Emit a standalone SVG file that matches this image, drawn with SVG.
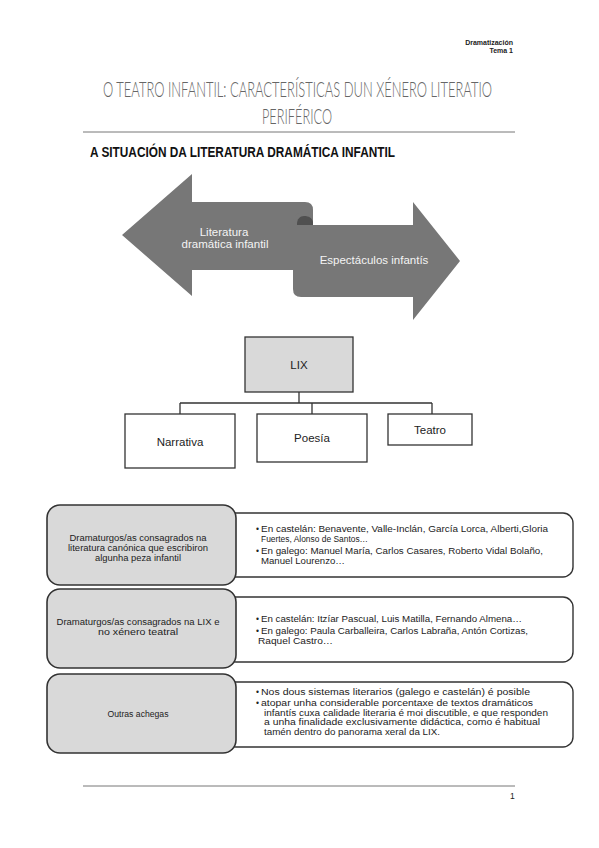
<svg xmlns="http://www.w3.org/2000/svg" width="599" height="848" viewBox="0 0 599 848">
<style>
.hdr{font-family:"Liberation Sans",Arial,sans-serif;font-size:7px;font-weight:bold;fill:#222;text-anchor:end}
.title{font-family:Lato,"Open Sans",sans-serif;font-weight:300;font-size:21px;fill:#666;text-anchor:middle}
.head{font-family:"Liberation Sans",Arial,sans-serif;font-weight:bold;font-size:14px;fill:#111}
.arrow{fill:#777777}
.atxt{font-family:"Liberation Sans",Arial,sans-serif;font-size:11.5px;fill:#f4f4f4;text-anchor:middle}
.box{fill:#ffffff;stroke:#333;stroke-width:1.3}
.boxg{fill:#d9d9d9;stroke:#333;stroke-width:1.3}
.ntxt{font-family:"Liberation Sans",Arial,sans-serif;font-size:11.5px;fill:#222;text-anchor:middle}
.conn{fill:none;stroke:#333;stroke-width:1.3}
.lbox{fill:#d9d9d9;stroke:#333;stroke-width:1.6}
.rbox{fill:#ffffff;stroke:#333;stroke-width:1.4}
.ltxt{font-family:"Liberation Sans",Arial,sans-serif;font-size:8.5px;fill:#222;text-anchor:middle}
.rtxt{font-family:"Liberation Sans",Arial,sans-serif;font-size:8.5px;fill:#222}
.rule{stroke:#777;stroke-width:1}
</style>
<rect width="599" height="848" fill="#ffffff"/>
<g id="header">
<text class="hdr" x="513" y="45">Dramatización</text>
<text class="hdr" x="513" y="53">Tema 1</text>
<text class="title" x="297.5" y="97" textLength="389" lengthAdjust="spacingAndGlyphs">O TEATRO INFANTIL: CARACTERÍSTICAS DUN XÉNERO LITERATIO</text>
<text class="title" x="297" y="124" textLength="70" lengthAdjust="spacingAndGlyphs">PERIFÉRICO</text>
<line class="rule" x1="83" y1="132" x2="515" y2="132"/>
<text class="head" x="90" y="157" textLength="305" lengthAdjust="spacingAndGlyphs">A SITUACIÓN DA LITERATURA DRAMÁTICA INFANTIL</text>
</g>
<g id="arrow-left">
<path class="arrow" d="M122,235 L192,174 L192,202 L305,202 Q313,202 313,210 L313,270 L192,270 L192,296 Z"/>
<text class="atxt" x="224" y="236">Literatura</text>
<text class="atxt" x="225" y="248">dramática infantil</text>
</g>
<g id="arrow-right">
<path class="arrow" d="M293,289 L293,222 C293,216 297,213 302,213 L313,213 L313,225 L413,225 L413,202 L460,261 L413,320 L413,297 L301,297 Q293,297 293,289 Z"/>
<path d="M297,224 C297,219 300,216 304,216 C309,216 312,218 313,222 L313,225 L297,225 Z" fill="#505050"/>
<text class="atxt" x="374" y="264">Espectáculos infantís</text>
</g>
<g id="connectors">
<path class="conn" d="M299,392 L299,403 M180,403 L432,403 M180,403 L180,414 M312,403 L312,414 M432,403 L432,414"/>
</g>
<g id="node-lix">
<rect class="boxg" x="245" y="337" width="108" height="55"/>
<text class="ntxt" x="299" y="369">LIX</text>
</g>
<g id="node-narrativa">
<rect class="box" x="125" y="414" width="110" height="54"/>
<text class="ntxt" x="180" y="446">Narrativa</text>
</g>
<g id="node-poesia">
<rect class="box" x="257" y="414" width="110" height="48"/>
<text class="ntxt" x="312" y="442">Poesía</text>
</g>
<g id="node-teatro">
<rect class="box" x="388" y="414" width="84" height="31"/>
<text class="ntxt" x="430" y="434">Teatro</text>
</g>
<g id="row1">
<rect class="rbox" x="226" y="513" width="347" height="64" rx="10"/>
<rect class="lbox" x="47" y="505" width="189" height="80" rx="13"/>
<text class="ltxt" x="138" y="541" textLength="137" lengthAdjust="spacingAndGlyphs">Dramaturgos/as consagrados na</text>
<text class="ltxt" x="138" y="551" textLength="140" lengthAdjust="spacingAndGlyphs">literatura canónica que escribiron</text>
<text class="ltxt" x="138" y="561" textLength="86" lengthAdjust="spacingAndGlyphs">algunha peza infantil</text>
<text class="rtxt" x="256" y="532">•</text>
<text class="rtxt" x="261" y="532" textLength="287" lengthAdjust="spacingAndGlyphs">En castelán: Benavente, Valle-Inclán, García Lorca, Alberti,Gloria</text>
<text class="rtxt" x="261" y="542" textLength="107" lengthAdjust="spacingAndGlyphs">Fuertes, Alonso de Santos…</text>
<text class="rtxt" x="256" y="554">•</text>
<text class="rtxt" x="261" y="554" textLength="282" lengthAdjust="spacingAndGlyphs">En galego: Manuel María, Carlos Casares, Roberto Vidal Bolaño,</text>
<text class="rtxt" x="261" y="564" textLength="84" lengthAdjust="spacingAndGlyphs">Manuel Lourenzo…</text>
</g>
<g id="row2">
<rect class="rbox" x="226" y="597" width="347" height="65" rx="10"/>
<rect class="lbox" x="47" y="589" width="189" height="79" rx="13"/>
<text class="ltxt" x="138" y="625" textLength="163" lengthAdjust="spacingAndGlyphs">Dramaturgos/as consagrados na LIX e</text>
<text class="ltxt" x="138" y="635" textLength="80" lengthAdjust="spacingAndGlyphs">no xénero teatral</text>
<text class="rtxt" x="256" y="622">•</text>
<text class="rtxt" x="261" y="622" textLength="261" lengthAdjust="spacingAndGlyphs">En castelán: Itzíar Pascual, Luis Matilla, Fernando Almena…</text>
<text class="rtxt" x="256" y="634">•</text>
<text class="rtxt" x="261" y="634" textLength="267" lengthAdjust="spacingAndGlyphs">En galego: Paula Carballeira, Carlos Labraña, Antón Cortizas,</text>
<text class="rtxt" x="258" y="644" textLength="75" lengthAdjust="spacingAndGlyphs">Raquel Castro…</text>
</g>
<g id="row3">
<rect class="rbox" x="226" y="682" width="347" height="65" rx="10"/>
<rect class="lbox" x="47" y="674" width="189" height="79" rx="13"/>
<text class="ltxt" x="138" y="717" textLength="61" lengthAdjust="spacingAndGlyphs">Outras achegas</text>
<text class="rtxt" x="256" y="695">•</text>
<text class="rtxt" x="261" y="695" textLength="269" lengthAdjust="spacingAndGlyphs">Nos dous sistemas literarios (galego e castelán) é posible</text>
<text class="rtxt" x="256" y="706">•</text>
<text class="rtxt" x="261" y="706" textLength="272" lengthAdjust="spacingAndGlyphs">atopar unha considerable porcentaxe de textos dramáticos</text>
<text class="rtxt" x="264" y="715.5" textLength="284" lengthAdjust="spacingAndGlyphs">infantís cuxa calidade literaria é moi discutible, e que responden</text>
<text class="rtxt" x="264" y="725" textLength="276" lengthAdjust="spacingAndGlyphs">a unha finalidade exclusivamente didáctica, como é habitual</text>
<text class="rtxt" x="264" y="734.5" textLength="176" lengthAdjust="spacingAndGlyphs">tamén dentro do panorama xeral da LIX.</text>
</g>
<g id="footer">
<line class="rule" x1="83" y1="786" x2="515" y2="786"/>
<text class="rtxt" x="510" y="799">1</text>
</g>
</svg>
